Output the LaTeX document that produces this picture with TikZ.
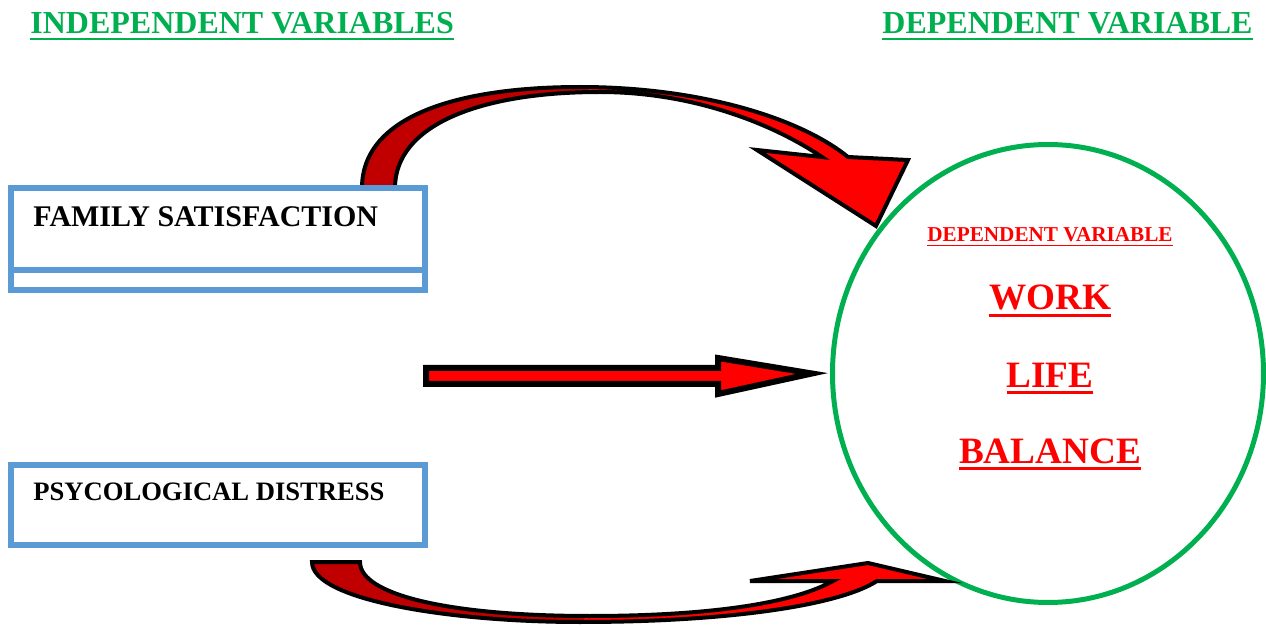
\documentclass[tikz,border=0pt]{standalone}
\usepackage{xcolor}
\usepackage{fontspec}
\setmainfont{Liberation Serif}
\usepackage{tikz}
\usetikzlibrary{calc,shapes.geometric}
\definecolor{boxblue}{HTML}{5B9BD5}
\definecolor{ringgreen}{HTML}{00B050}
\definecolor{darkred}{HTML}{C00000}
\definecolor{brightred}{HTML}{FF0000}
\newcommand{\ulined}[1]{\setbox0=\hbox{#1}\rlap{\rule[-0.19em]{\wd0}{0.07em}}\box0}

\begin{document}
\begin{tikzpicture}[x=.5pt,y=-.5pt,every node/.style={inner sep=0pt},
 varbox/.style={draw=boxblue,line width=3.3pt,minimum width=207pt},
 blockarrow/.style={draw=black,line width=2pt,line join=miter},
 inner/.style={anchor=base,text=brightred,font=\bfseries\fontsize{18.6}{22}\selectfont}]
\useasboundingbox (0,0) rectangle (1266,626);
% headings
\node[anchor=base west,text=ringgreen,font=\bfseries\fontsize{16}{19}\selectfont] (indep) at (30,34){\ulined{INDEPENDENT VARIABLES}};
\node[anchor=base east,text=ringgreen,font=\bfseries\fontsize{16}{19}\selectfont] (dep) at (1253,34){\ulined{DEPENDENT VARIABLE}};
% dependent variable
\node[ellipse,draw=ringgreen,line width=2.5pt,minimum width=215.5pt,minimum height=229pt] (wlb) at (1048,373.5){};
\node[anchor=base,text=brightred,font=\bfseries\fontsize{10.6}{13}\selectfont] (deptxt) at (1050,242){\ulined{DEPENDENT VARIABLE}};
\node[inner] (work) at (1050,310){\ulined{WORK}};
\node[inner] (life) at (1050,387){\ulined{LIFE}};
\node[inner] (bal) at (1050,463){\ulined{BALANCE}};
% top curved arrow
\fill[darkred] (362,188) .. controls (362,115) and (460,87) .. (580,87) -- (600,92) .. controls (480,92) and (395,125) .. (395,188) -- cycle;
\fill[brightred] (580,87) .. controls (700,87) and (800,118) .. (848,157) -- (908,160) -- (876,226) -- (757,150) -- (822,157) .. controls (770,122) and (690,92) .. (600,92) -- cycle;
\draw[blockarrow] (362,188) .. controls (362,115) and (460,87) .. (580,87) .. controls (700,87) and (800,118) .. (848,157) -- (908,160) -- (876,226) -- (757,150) -- (822,157) .. controls (770,122) and (690,92) .. (600,92) .. controls (480,92) and (395,125) .. (395,188) -- cycle;
% bottom curved arrow
\fill[darkred] (312,562) .. controls (312,600) and (450,622) .. (580,622) -- (590,616) .. controls (450,616) and (360,595) .. (360,562) -- cycle;
\fill[brightred] (580,622) .. controls (730,622) and (840,605) .. (877,581) -- (945,581) -- (868,563) -- (750,581) -- (833,581) .. controls (790,605) and (700,616) .. (590,616) -- cycle;
\draw[blockarrow] (312,562) .. controls (312,600) and (450,622) .. (580,622) .. controls (730,622) and (840,605) .. (877,581) -- (945,581) -- (868,563) -- (750,581) -- (833,581) .. controls (790,605) and (700,616) .. (590,616) .. controls (450,616) and (360,595) .. (360,562) -- cycle;
% straight arrow
\coordinate (tip) at ($(wlb.west)+(-18,0)$);
\draw[blockarrow,fill=brightred,line width=3pt] (426,368) -- (718,368) -- (718,358) -- (tip) -- (718,394) -- (718,384) -- (426,384) -- cycle;
% independent variables
\node[varbox,minimum height=51pt] (fam) at (218,239){};
\draw[boxblue,line width=3.3pt] (fam.west |- 0,270) -- (fam.east |- 0,270);
\node[anchor=base west,font=\bfseries\fontsize{15}{18}\selectfont] (famtxt) at (33,227){FAMILY SATISFACTION};
\node[varbox,minimum height=40pt] (psy) at (218,505){};
\node[anchor=base west,font=\bfseries\fontsize{13.3}{16}\selectfont] (psytxt) at (33,501){PSYCOLOGICAL DISTRESS};
\end{tikzpicture}
\end{document}
